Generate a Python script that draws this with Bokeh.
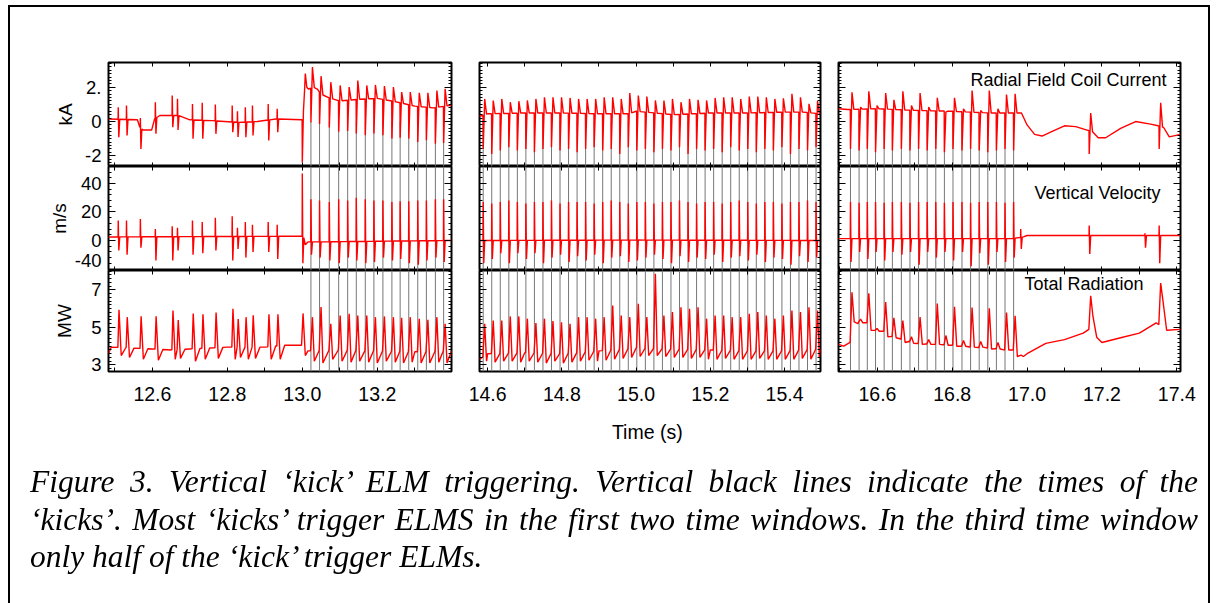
import numpy as np
from bokeh.plotting import figure
from bokeh.models import LinearAxis, FixedTicker, Label, Div, Range1d
from bokeh.layouts import column, row
from bokeh.embed import file_html
from bokeh.resources import INLINE

# ---------------- data ----------------
win_x = [(12.483, 13.398), (14.578, 15.497), (16.496, 17.41)]
y_ranges = [(-2.63, 3.45), (-21.05, 51.9), (2.65, 8.04)]
y_titles = ["kA", "m/s", "MW"]

# kick times (vertical black lines)
kicks1 = [13.023, 13.046, 13.072, 13.097, 13.121, 13.144, 13.168, 13.191,
          13.215, 13.239, 13.261, 13.284, 13.308, 13.331, 13.355, 13.377]
kicks2 = [14.588, 14.611, 14.634, 14.657, 14.680, 14.703, 14.726, 14.749,
          14.772, 14.795, 14.818, 14.841, 14.864, 14.887, 14.910, 14.933,
          14.956, 14.979, 15.002, 15.025, 15.048, 15.071, 15.094, 15.117,
          15.140, 15.163, 15.186, 15.209, 15.232, 15.255, 15.278, 15.301,
          15.324, 15.347, 15.370, 15.393, 15.416, 15.439, 15.462, 15.485]
kicks3 = [16.528, 16.551, 16.573, 16.595, 16.618, 16.640, 16.664, 16.687,
          16.710, 16.733, 16.756, 16.779, 16.802, 16.826, 16.849, 16.872,
          16.895, 16.918, 16.941, 16.964]
# natural ELMs before the kicks start (window 1)
elms1 = [12.509, 12.531, 12.568, 12.608, 12.653, 12.667, 12.707, 12.733,
         12.768, 12.813, 12.827, 12.848, 12.867, 12.909, 12.933]
# isolated events after 17.0 s (window 3)
late3 = [17.166, 17.353]

# ---- Radial field coil current (kA)
rfc1_bt = [12.483, 12.56, 12.566, 12.575, 12.598, 12.606, 12.62, 12.67, 12.70, 12.76,
           12.83, 12.88, 12.93, 12.998, 12.9995, 13.0, 13.003, 13.006, 13.008, 13.012,
           13.016, 13.03, 13.04, 13.05, 13.07, 13.10, 13.15, 13.20, 13.25, 13.30, 13.35, 13.398]
rfc1_bv = [0.15, 0.1, -0.3, -0.5, -0.5, 0.15, 0.35, 0.35, 0.1, 0.05,
           -0.05, 0.0, 0.15, 0.1, 0.1, -2.4, 0.6, 1.8, 2.8, 2.0,
           1.9, 2.0, 1.9, 1.6, 1.4, 1.2, 1.3, 1.35, 1.15, 0.9, 0.8, 0.95]
rfc1e_hi = [0.84, 0.94, 0.2, 1.13, 1.52, 1.33, 1.03, 1.09, 0.99, 0.94, 0.6, 0.84, 0.94, 1.03, 0.74]
rfc1e_lo = [-0.92, -0.82, -1.6, -0.72, -0.33, -0.5, -1.01, -1.01, -0.72, -0.62, -0.9, -0.92, -0.82, -1.11, -0.62]
rfc1k_hi = [3.18, 2.65, 2.30, 2.11, 2.01, 2.40, 2.11, 2.14, 2.07, 2.01, 1.72, 1.72, 1.68, 1.68, 1.81, 1.91]
rfc1k_lo = [-0.05, -0.15, -0.35, -0.6, -0.55, -0.7, -0.8, -0.7, -0.8, -1.0, -0.95, -1.0, -1.2, -1.1, -1.3, -1.25]

rfc2_bt = [14.578, 14.6, 14.7, 14.8, 14.9, 14.98, 15.0, 15.05, 15.1, 15.15, 15.2, 15.3, 15.4, 15.45, 15.497]
rfc2_bv = [0.3, 0.45, 0.5, 0.5, 0.45, 0.45, 0.6, 0.5, 0.4, 0.45, 0.5, 0.5, 0.55, 0.55, 0.45]
rfc2_hi = [1.32, 1.23, 1.32, 1.13, 1.19, 1.23, 1.32, 1.42, 1.42, 1.42, 1.38, 1.32, 1.32, 1.32,
           1.42, 1.42, 1.32, 1.66, 1.52, 1.46, 1.23, 1.23, 1.32, 1.13, 1.32, 1.27, 1.23, 1.38,
           1.42, 1.42, 1.32, 1.46, 1.46, 1.42, 1.32, 1.36, 1.62, 1.42, 1.03, 1.2]
rfc2_lo = [-1.6, -1.9, -1.7, -1.5, -1.7, -1.6, -1.8, -1.6, -1.5, -1.7, -1.6, -1.8, -1.6, -1.5,
           -1.7, -1.6, -1.9, -1.5, -1.7, -1.6, -1.8, -1.6, -1.7, -1.5, -1.9, -1.6, -1.7, -1.6,
           -1.8, -1.5, -1.7, -1.6, -1.8, -1.6, -1.7, -1.5, -1.9, -1.6, -1.7, -1.5]

rfc3_bt = [16.496, 16.52, 16.6, 16.7, 16.8, 16.9, 16.96, 16.985, 17.0, 17.02, 17.04, 17.07,
           17.1, 17.13, 17.16, 17.175, 17.19, 17.21, 17.25, 17.29, 17.33, 17.35, 17.365, 17.38, 17.41]
rfc3_bv = [0.75, 0.7, 0.75, 0.65, 0.6, 0.5, 0.5, 0.5, -0.2, -0.75, -0.85, -0.55,
           -0.25, -0.3, -0.5, -0.6, -0.95, -0.95, -0.4, 0.0, -0.15, -0.25, -0.35, -0.9, -0.75]
rfc3_hi = [1.71, 0.84, 1.77, 0.93, 1.66, 1.27, 1.77, 0.93, 1.66, 0.84,
           1.39, 0.55, 1.39, 0.74, 1.81, 0.64, 1.81, 0.74, 1.58, 1.62]
rfc3_lo = [-1.6, -1.7, -1.6, -1.8, -1.6, -1.7, -1.6, -1.7, -1.6, -1.7,
           -1.6, -1.8, -1.6, -1.7, -1.6, -1.7, -1.8, -1.7, -1.6, -1.7]
rfc3p_hi = [0.5, 1.1]
rfc3p_lo = [-1.9, -1.6]

# ---- Vertical velocity (m/s)
vel1_bt = [12.483, 12.998, 12.9995, 13.0, 13.0015, 13.004, 13.008, 13.015, 13.05, 13.2, 13.398]
vel1_bv = [2.5, 3.0, 3.0, 47.0, -16.0, 2.0, -3.0, -1.0, -1.0, -0.5, 0.0]
vel1e_hi = [14, 14, 15, 8, 10, 9, 14, 13, 16, 17, 9, 13, 11, 13, 11]
vel1e_lo = [-7, -10, -5, -14, -14, -7, -10, -9, -7, -14, -6, -12, -8, -8, -13]
vel1k_hi = [29, 28, 27, 29, 28, 30, 29, 28, 28, 27, 27.5, 27.5, 28, 28, 29, 29]
vel1k_lo = [-10, -12, -14, -16, -12, -14, -16, -15, -12, -14, -13, -16, -17, -14, -12, -15]

vel2_bt = [14.578, 15.0, 15.497]
vel2_bv = [0.0, 0.3, 0.0]
vel2_hi = [27, 26, 27, 28, 27, 26, 27, 27, 28, 26, 27, 27, 27, 26, 27, 28, 27, 26, 27, 27,
           26, 27, 27, 28, 27, 26, 27, 27, 26, 27, 28, 27, 26, 27, 27, 26, 27, 27, 28, 27]
vel2_lo = [-16, -13, -9, -16, -9, -13, -9, -16, -12, -10, -15, -11, -14, -10, -16, -12, -11, -15, -14, -12,
           -10, -13, -16, -11, -15, -12, -13, -10, -15, -12, -11, -14, -10, -15, -12, -13, -17, -11, -15, -12]

vel3_bt = [16.496, 16.96, 16.99, 17.0, 17.41]
vel3_bv = [1.3, 1.3, 2.5, 3.5, 3.5]
vel3_hi = [27, 26.5, 27, 27, 26.5, 27, 27, 26.5, 27, 27, 27, 26.5, 27, 27, 26.5, 27, 27, 27, 26.5, 27]
vel3_lo = [-15, -8, -13, -8, -14, -8, -10, -8, -17, -8, -12, -8, -14, -8, -18, -9, -17, -8, -15, -12]
vel3p_t = [16.983, 17.166, 17.315, 17.353]
vel3p_hi = [8, 10.5, 5, 10.5]
vel3p_lo = [-6, -9.5, -5, -16]

# ---- Total radiation (MW)
rad1_bt = [12.483, 12.49, 12.55, 12.6, 12.65, 12.7, 12.75, 12.8, 12.85, 12.9, 12.95,
           12.998, 13.002, 13.008, 13.015, 13.1, 13.2, 13.3, 13.398]
rad1_bv = [3.6, 3.95, 3.9, 3.85, 3.8, 3.85, 3.9, 3.95, 3.95, 3.95, 4.05,
           4.05, 5.75, 3.5, 3.75, 3.8, 3.75, 3.7, 3.75]
rad1e_hi = [5.95, 5.55, 5.6, 5.6, 5.9, 5.4, 5.75, 5.7, 5.8, 6.0, 5.45, 5.55, 5.65, 5.7, 5.7]
rad1e_lo = [3.5, 3.4, 3.3, 3.25, 3.3, 3.35, 3.2, 3.3, 3.35, 3.3, 3.4, 3.3, 3.35, 3.3, 3.3]
rad1k_hi = [5.55, 6.09, 5.2, 5.64, 5.73, 5.64, 5.64, 5.55, 5.59, 5.55, 5.52, 5.55, 5.46, 5.41, 5.55, 5.2]
rad1k_lo = [3.2, 3.1, 3.3, 3.2, 3.15, 3.2, 3.15, 3.1, 3.2, 3.15, 3.1, 3.15, 3.1, 3.1, 3.15, 3.1]

rad2_bt = [14.578, 14.6, 14.7, 14.8, 14.9, 15.0, 15.1, 15.2, 15.3, 15.4, 15.497]
rad2_bv = [3.3, 3.6, 3.65, 3.6, 3.75, 3.9, 3.85, 3.8, 3.75, 3.75, 3.85]
rad2_hi = [5.2, 5.37, 5.37, 5.59, 5.59, 5.47, 5.23, 5.47, 5.34, 5.28, 5.2, 5.55, 5.55, 5.47,
           5.55, 6.17, 5.64, 5.55, 6.26, 5.55, 7.86, 5.64, 5.82, 6.08, 6.0, 6.08, 5.47, 5.64,
           5.64, 5.55, 5.55, 5.73, 5.82, 5.64, 5.47, 5.64, 5.91, 5.82, 6.08, 5.91]
rad2_lo = [3.2, 3.15, 3.2, 3.2, 3.15, 3.2, 3.15, 3.1, 3.2, 3.1, 3.15, 3.2, 3.25, 3.2,
           3.25, 3.3, 3.35, 3.4, 3.45, 3.5, 3.5, 3.45, 3.4, 3.4, 3.35, 3.4, 3.3, 3.3,
           3.35, 3.3, 3.3, 3.3, 3.35, 3.3, 3.3, 3.3, 3.3, 3.35, 3.3, 3.4]

rad3_bt = [16.496, 16.51, 16.527, 16.55, 16.572, 16.59, 16.617, 16.64, 16.66, 16.7, 16.75,
           16.8, 16.85, 16.9, 16.94, 16.963, 16.99, 17.0, 17.05, 17.1, 17.15, 17.165,
           17.2, 17.25, 17.3, 17.345, 17.372, 17.41]
rad3_bv = [4.1, 4.0, 4.2, 5.3, 5.25, 4.85, 4.8, 4.5, 4.4, 4.15, 4.1,
           4.05, 3.95, 3.9, 3.8, 3.8, 3.45, 3.6, 4.15, 4.35, 4.7, 4.9,
           4.2, 4.45, 4.7, 5.25, 4.85, 4.9]
rad3_hi = [6.88, 5.45, 6.83, 4.95, 6.35, 5.51, 5.37, 4.5, 5.55, 4.35,
           6.28, 4.57, 6.1, 4.3, 6.06, 4.25, 6.03, 4.2, 5.8, 5.62]
rad3_lo = [5.3, 5.25, 4.85, 4.8, 4.5, 4.45, 4.2, 4.15, 4.1, 4.1,
           4.1, 4.05, 4.0, 4.0, 3.95, 3.95, 3.85, 3.85, 3.8, 3.45]
rad3p_hi = [6.69, 7.37]
rad3p_lo = [5.6, 6.45]

# tick labels
xlabels = [{12.6: "12.6", 12.8: "12.8", 13.0: "13.0", 13.2: "13.2"},
           {14.6: "14.6", 14.8: "14.8", 15.0: "15.0", 15.2: "15.2", 15.4: "15.4"},
           {16.6: "16.6", 16.8: "16.8", 17.0: "17.0", 17.2: "17.2", 17.4: "17.4"}]
xticks = [[12.5, 12.6, 12.7, 12.8, 12.9, 13.0, 13.1, 13.2, 13.3],
          [14.6, 14.7, 14.8, 14.9, 15.0, 15.1, 15.2, 15.3, 15.4],
          [16.5, 16.6, 16.7, 16.8, 16.9, 17.0, 17.1, 17.2, 17.3, 17.4]]
ylabels = [{-2: "-2", 0: "0", 2: "2."},
           {-20: "-40", 0: "0", 20: "20", 40: "40"},
           {3: "3", 5: "5", 7: "7"}]
yminor_step = [0.2, 4.0, 0.2]
panel_titles = ["Radial Field Coil Current", "Vertical Velocity", "Total Radiation"]
shot = "86630"
caption_lines = [
    "Figure 3. Vertical \u2018kick\u2019 ELM triggering. Vertical black lines indicate the times of the",
    "\u2018kicks\u2019. Most \u2018kicks\u2019 trigger ELMS in the first two time windows. In the third time window",
    "only half of the \u2018kick\u2019 trigger ELMs.",
]

# ---------------- spike shapes (offset in s, which value) ----------------
RFC_KICK = [(-0.0005, "b"), (0.0, "l"), (0.004, "h"), (0.009, "b")]
RFC_ELM = [(-0.0005, "b"), (0.0, "h"), (0.0015, "l"), (0.004, "b")]
VEL = [(-0.0005, "b"), (0.0, "h"), (0.0015, "l"), (0.004, "b")]
RAD_ELM = [(-0.001, "b"), (0.002, "h"), (0.008, "l"), (0.02, "b")]
RAD_KICK = [(-0.001, "b"), (0.004, "h"), (0.009, "l")]
RAD3 = [(-0.001, "b"), (0.004, "h"), (0.010, "l"), (0.02, "b")]


def build(base_t, base_v, groups):
    evs = []
    for times, his, los, shape in groups:
        for t, h, l in zip(times, his, los):
            evs.append((t, h, l, shape))
    evs.sort(key=lambda e: e[0])
    pts, wins = [], []
    for j, (t, h, l, shape) in enumerate(evs):
        limit = evs[j + 1][0] + evs[j + 1][3][0][0] if j + 1 < len(evs) else 1e9
        first = t + shape[0][0]
        last = first
        for off, kind in shape:
            tt = t + off
            if tt >= limit:
                break
            if kind == "h":
                v = h
            elif kind == "l":
                v = l
            else:
                v = float(np.interp(tt, base_t, base_v))
            pts.append((tt, v))
            last = tt
        wins.append((first, last))
    for t, v in zip(base_t, base_v):
        if not any(a - 1e-9 <= t <= b + 1e-9 for a, b in wins):
            pts.append((t, v))
    pts.sort(key=lambda q: q[0])
    return [q[0] for q in pts], [q[1] for q in pts]


traces = {
    (0, 0): build(rfc1_bt, rfc1_bv, [(elms1, rfc1e_hi, rfc1e_lo, RFC_ELM), (kicks1, rfc1k_hi, rfc1k_lo, RFC_KICK)]),
    (1, 0): build(rfc2_bt, rfc2_bv, [(kicks2, rfc2_hi, rfc2_lo, RFC_KICK)]),
    (2, 0): build(rfc3_bt, rfc3_bv, [(kicks3, rfc3_hi, rfc3_lo, RFC_KICK), (late3, rfc3p_hi, rfc3p_lo, RFC_KICK)]),
    (0, 1): build(vel1_bt, vel1_bv, [(elms1, vel1e_hi, vel1e_lo, VEL), (kicks1, vel1k_hi, vel1k_lo, VEL)]),
    (1, 1): build(vel2_bt, vel2_bv, [(kicks2, vel2_hi, vel2_lo, VEL)]),
    (2, 1): build(vel3_bt, vel3_bv, [(kicks3, vel3_hi, vel3_lo, VEL), (vel3p_t, vel3p_hi, vel3p_lo, VEL)]),
    (0, 2): build(rad1_bt, rad1_bv, [(elms1, rad1e_hi, rad1e_lo, RAD_ELM), (kicks1, rad1k_hi, rad1k_lo, RAD_KICK)]),
    (1, 2): build(rad2_bt, rad2_bv, [(kicks2, rad2_hi, rad2_lo, RAD_KICK)]),
    (2, 2): build(rad3_bt, rad3_bv, [(kicks3, rad3_hi, rad3_lo, RAD3), (late3, rad3p_hi, rad3p_lo, RAD3)]),
}
kicks = [kicks1, kicks2, kicks3]

# ---------------- layout geometry ----------------
COLW = [(108, 343, 14), (14, 341, 9), (9, 342, 38)]
ROWH = [(62, 104, 0), (0, 104, 0), (0, 101, 90)]
FONT = "Liberation Sans"
EDGE_LABEL_SHIFT_PX = 9   # lift of a tick label that would fall off the panel's canvas


def style_axis(ax, ticks, minor, labels, major_len, minor_len, font_size):
    ax.ticker = FixedTicker(ticks=ticks, minor_ticks=minor)
    ax.major_tick_in = major_len
    ax.major_tick_out = 0
    ax.minor_tick_in = minor_len
    ax.minor_tick_out = 0
    ax.axis_line_color = None
    ax.major_tick_line_color = "black"
    ax.minor_tick_line_color = "black"
    ax.major_tick_line_width = 1
    ax.minor_tick_line_width = 1
    ax.major_label_overrides = {t: labels.get(t, "") for t in ticks}
    ax.major_label_text_font = FONT
    ax.major_label_text_font_size = font_size
    ax.major_label_text_color = "black"
    ax.axis_label_text_font = FONT
    ax.axis_label_text_font_style = "normal"
    ax.axis_label_text_color = "black"


def panel(ci, ri):
    bl, fw, br = COLW[ci]
    bt, fh, bb = ROWH[ri]
    x0, x1 = win_x[ci]
    y0, y1 = y_ranges[ri]
    p = figure(width=bl + fw + br, height=bt + fh + bb,
               x_range=Range1d(x0, x1), y_range=Range1d(y0, y1),
               x_axis_type=None, y_axis_type=None,
               output_backend="svg", toolbar_location=None,
               min_border_left=bl, min_border_right=br,
               min_border_top=bt, min_border_bottom=bb)
    p.outline_line_color = "black"
    p.outline_line_width = 2
    p.background_fill_color = "white"
    p.border_fill_color = "white"

    # y ticks: marks from a tick-only axis on each side
    lab = ylabels[ri]
    yt = sorted(lab.keys())
    step = yminor_step[ri]
    ym = [float(v) for v in np.round(np.arange(np.ceil(y0 / step) * step, y1, step), 3)]
    for side, loc in (("left", x0), ("right", x1)):
        ax = LinearAxis(fixed_location=loc)
        style_axis(ax, yt, ym, {}, 7, 3, "0px")
        p.add_layout(ax, side)
    if ci == 0:
        # labelled axis (labels only); a label lying on the very bottom edge of a
        # canvas without bottom border is lifted a few pixels so it stays visible
        px_per_unit = fh / (y1 - y0)
        pos, txt = [], {}
        for t in yt:
            q = float(t)
            if bb == 0 and (q - y0) * px_per_unit < 5:
                q = round(q + EDGE_LABEL_SHIFT_PX / px_per_unit, 3)
            pos.append(q)
            txt[q] = lab[t]
        ax = LinearAxis(axis_label=y_titles[ri])
        style_axis(ax, pos, [], txt, 0, 0, "18.5px")
        ax.major_label_standoff = 7
        ax.axis_label_standoff = [6, 2, 13][ri]
        ax.axis_label_text_font_size = "19px"
        p.add_layout(ax, "left")

    # x ticks
    xt = xticks[ci]
    if ri == 2:
        ax = LinearAxis(axis_label="Time  (s)" if ci == 1 else None)
        style_axis(ax, xt, [], xlabels[ci], 4, 0, "19.5px")
        ax.major_label_standoff = 15
        ax.axis_label_standoff = 17
        ax.axis_label_text_font_size = "19.5px"
        p.add_layout(ax, "below")
    else:
        ax = LinearAxis(fixed_location=y0)
        style_axis(ax, xt, [], {}, 4, 0, "0px")
        p.add_layout(ax, "below")
    ax = LinearAxis(fixed_location=y1)
    style_axis(ax, xt, [], {}, 4, 0, "0px")
    p.add_layout(ax, "above")

    # kick lines
    k = kicks[ci]
    if k:
        top = 0.0 if ri == 0 else y1
        p.segment(x0=k, x1=k, y0=[y0] * len(k), y1=[top] * len(k),
                  line_color="#777777", line_width=1)
    tx, ty = traces[(ci, ri)]
    p.line(tx, ty, line_color="#ff0000", line_width=1.4)

    if ci == 2:
        offs = [(-14, -17), (-20, -26), (-37, -13)][ri]
        p.add_layout(Label(x=x1, y=y1, x_offset=offs[0], y_offset=offs[1],
                           text=panel_titles[ri], text_align="right", text_baseline="middle",
                           text_font=FONT, text_font_size="18px", text_color="black"))
        if ri == 0:
            p.add_layout(Label(x=x1, y=y1, x_offset=-17, y_offset=27, text=shot,
                               text_align="right", text_baseline="middle",
                               text_font=FONT, text_font_size="18px", text_color="black"))
    return p


cols = []
for ci in range(3):
    cols.append(column([panel(ci, ri) for ri in range(3)], spacing=0))
panels = row(cols, spacing=0)

line_style = ("white-space:nowrap;text-align:justify;text-align-last:justify;")
cap_html = (
    '<div style="position:fixed;left:8px;top:5px;width:1202px;height:700px;'
    'border:2px solid #000;box-sizing:border-box;pointer-events:none"></div>'
    '<div style="position:relative;top:-3px;margin-left:25px;width:1168px;font-family:\'Liberation Serif\';'
    'font-style:italic;font-size:31.5px;line-height:37.5px;color:#000">'
    f'<div style="{line_style}">{caption_lines[0]}</div>'
    f'<div style="{line_style}">{caption_lines[1]}</div>'
    f'<div style="white-space:nowrap;text-align:left">{caption_lines[2]}</div>'
    '</div>'
)
caption = Div(text=cap_html, width=1218, height=142)

p = column([panels, caption], spacing=0)
open("out.html", "w").write(file_html(p, INLINE))
